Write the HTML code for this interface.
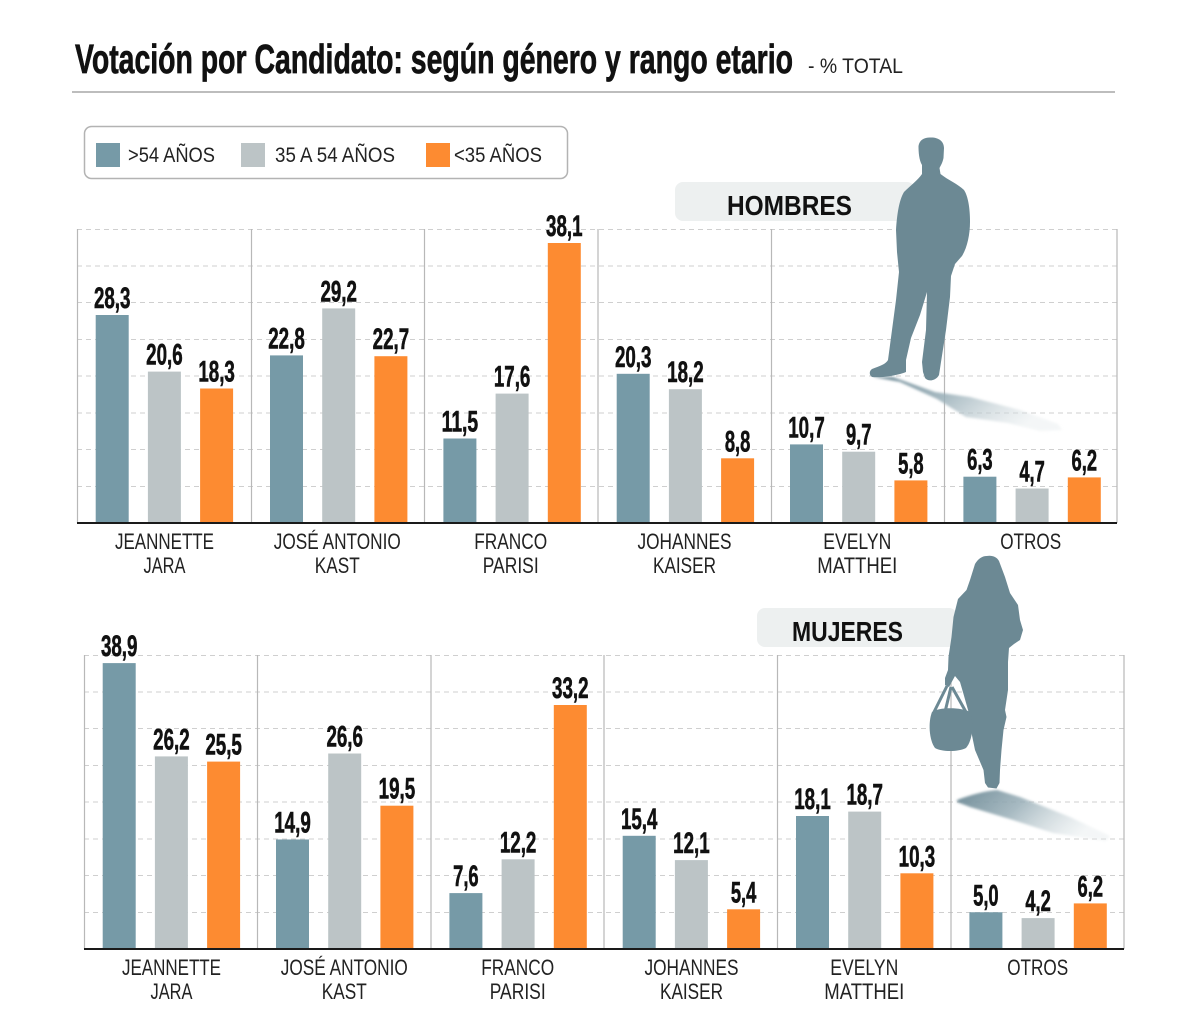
<!DOCTYPE html>
<html>
<head>
<meta charset="utf-8">
<style>
html,body{margin:0;padding:0;background:#fff;}
svg{display:block;}
.t{font-family:"Liberation Sans",sans-serif;font-weight:bold;fill:#111;stroke:#111;stroke-width:0.7;}
.h{font-family:"Liberation Sans",sans-serif;font-weight:bold;fill:#111;}
.v{font-family:"Liberation Sans",sans-serif;font-weight:bold;font-size:30px;fill:#111;stroke:#111;stroke-width:0.6;}
.c{font-family:"Liberation Sans",sans-serif;font-size:22px;fill:#222;text-anchor:middle;}
.l{font-family:"Liberation Sans",sans-serif;font-size:21px;fill:#222;}
.a{fill:#769aa7;}
.b{fill:#bcc4c6;}
.o{fill:#fd8b31;}
.grid{stroke:#cfcfcf;stroke-width:1;stroke-dasharray:5 4;fill:none;}
.div{stroke:#b8b8b8;stroke-width:1.2;fill:none;}
.base{stroke:#1a1a1a;stroke-width:2;fill:none;}
.sil{fill:#6c8994;}
</style>
</head>
<body>
<svg width="1200" height="1034" viewBox="0 0 1200 1034" xmlns="http://www.w3.org/2000/svg">
<defs>
<linearGradient id="sh" x1="0" y1="0" x2="1" y2="0.35">
<stop offset="0" stop-color="#6f8b97" stop-opacity="1"/>
<stop offset="0.45" stop-color="#98aeb7" stop-opacity="0.85"/>
<stop offset="1" stop-color="#e3e9eb" stop-opacity="0.4"/>
</linearGradient>
<filter id="bl" x="-10%" y="-50%" width="120%" height="200%"><feGaussianBlur stdDeviation="1.3"/></filter>
</defs>

<!-- Title -->
<text class="t" x="75" y="73" font-size="41" textLength="718" lengthAdjust="spacingAndGlyphs">Votación por Candidato: según género y rango etario</text>
<text class="l" x="808" y="73" textLength="95" lengthAdjust="spacingAndGlyphs">- % TOTAL</text>
<line x1="72" y1="92" x2="1115" y2="92" stroke="#bdbdbd" stroke-width="2"/>

<!-- Legend -->
<rect x="84.5" y="126.5" width="483" height="52" rx="7" fill="#fff" stroke="#b3b3b3" stroke-width="1.5"/>
<rect x="96" y="143" width="24" height="24" class="a"/>
<text class="l" x="128" y="162" textLength="87" lengthAdjust="spacingAndGlyphs">&gt;54 AÑOS</text>
<rect x="241" y="143" width="24" height="24" class="b"/>
<text class="l" x="275" y="162" textLength="120" lengthAdjust="spacingAndGlyphs">35 A 54 AÑOS</text>
<rect x="426" y="143" width="24" height="24" class="o"/>
<text class="l" x="454" y="162" textLength="88" lengthAdjust="spacingAndGlyphs">&lt;35 AÑOS</text>

<!-- ===== TOP CHART (HOMBRES) ===== -->
<path class="grid" d="M77 229.5H1117M77 266H1117M77 302.5H1117M77 339.5H1117M77 376H1117M77 413H1117M77 449.5H1117M77 486.5H1117"/>
<path class="div" d="M77.5 229V523M251.5 229V523M424.5 229V523M598 229V523M771.5 229V523M944.5 229V523M1117 229V523"/>

<rect x="675" y="182" width="240" height="39" rx="8" fill="#edf0f0"/>
<text class="h" x="727" y="215" font-size="28" textLength="125" lengthAdjust="spacingAndGlyphs">HOMBRES</text>

<rect class="a" x="95.7" y="315.0" width="33" height="208.0"/>
<rect class="b" x="147.9" y="371.6" width="33" height="151.4"/>
<rect class="o" x="200.1" y="388.5" width="33" height="134.5"/>
<rect class="a" x="270.0" y="355.4" width="33" height="167.6"/>
<rect class="b" x="322.2" y="308.4" width="33" height="214.6"/>
<rect class="o" x="374.4" y="356.2" width="33" height="166.8"/>
<rect class="a" x="443.4" y="438.5" width="33" height="84.5"/>
<rect class="b" x="495.6" y="393.6" width="33" height="129.4"/>
<rect class="o" x="547.8" y="243.0" width="33" height="280.0"/>
<rect class="a" x="616.7" y="373.8" width="33" height="149.2"/>
<rect class="b" x="668.9" y="389.2" width="33" height="133.8"/>
<rect class="o" x="721.1" y="458.3" width="33" height="64.7"/>
<rect class="a" x="790.0" y="444.4" width="33" height="78.6"/>
<rect class="b" x="842.2" y="451.7" width="33" height="71.3"/>
<rect class="o" x="894.4" y="480.4" width="33" height="42.6"/>
<rect class="a" x="963.4" y="476.7" width="33" height="46.3"/>
<rect class="b" x="1015.6" y="488.5" width="33" height="34.5"/>
<rect class="o" x="1067.8" y="477.4" width="33" height="45.6"/>

<text class="v" x="93.95" y="308" textLength="36.5" lengthAdjust="spacingAndGlyphs">28,3</text>
<text class="v" x="146.15" y="364.6" textLength="36.5" lengthAdjust="spacingAndGlyphs">20,6</text>
<text class="v" x="198.35" y="381.5" textLength="36.5" lengthAdjust="spacingAndGlyphs">18,3</text>
<text class="v" x="268.25" y="348.4" textLength="36.5" lengthAdjust="spacingAndGlyphs">22,8</text>
<text class="v" x="320.45" y="301.4" textLength="36.5" lengthAdjust="spacingAndGlyphs">29,2</text>
<text class="v" x="372.65" y="349.2" textLength="36.5" lengthAdjust="spacingAndGlyphs">22,7</text>
<text class="v" x="441.65" y="431.5" textLength="36.5" lengthAdjust="spacingAndGlyphs">11,5</text>
<text class="v" x="493.85" y="386.6" textLength="36.5" lengthAdjust="spacingAndGlyphs">17,6</text>
<text class="v" x="546.05" y="236" textLength="36.5" lengthAdjust="spacingAndGlyphs">38,1</text>
<text class="v" x="614.95" y="366.8" textLength="36.5" lengthAdjust="spacingAndGlyphs">20,3</text>
<text class="v" x="667.15" y="382.2" textLength="36.5" lengthAdjust="spacingAndGlyphs">18,2</text>
<text class="v" x="724.85" y="451.3" textLength="25.5" lengthAdjust="spacingAndGlyphs">8,8</text>
<text class="v" x="788.25" y="437.4" textLength="36.5" lengthAdjust="spacingAndGlyphs">10,7</text>
<text class="v" x="845.95" y="444.7" textLength="25.5" lengthAdjust="spacingAndGlyphs">9,7</text>
<text class="v" x="898.15" y="473.4" textLength="25.5" lengthAdjust="spacingAndGlyphs">5,8</text>
<text class="v" x="967.15" y="469.7" textLength="25.5" lengthAdjust="spacingAndGlyphs">6,3</text>
<text class="v" x="1019.35" y="481.5" textLength="25.5" lengthAdjust="spacingAndGlyphs">4,7</text>
<text class="v" x="1071.55" y="470.4" textLength="25.5" lengthAdjust="spacingAndGlyphs">6,2</text>

<line class="base" x1="77" y1="523" x2="1117" y2="523"/>

<text class="c" x="164.5" y="549" textLength="99" lengthAdjust="spacingAndGlyphs">JEANNETTE</text>
<text class="c" x="164.5" y="573" textLength="42" lengthAdjust="spacingAndGlyphs">JARA</text>
<text class="c" x="337.3" y="549" textLength="127" lengthAdjust="spacingAndGlyphs">JOSÉ ANTONIO</text>
<text class="c" x="337.3" y="573" textLength="45" lengthAdjust="spacingAndGlyphs">KAST</text>
<text class="c" x="510.7" y="549" textLength="73" lengthAdjust="spacingAndGlyphs">FRANCO</text>
<text class="c" x="510.7" y="573" textLength="56" lengthAdjust="spacingAndGlyphs">PARISI</text>
<text class="c" x="684.5" y="549" textLength="94" lengthAdjust="spacingAndGlyphs">JOHANNES</text>
<text class="c" x="684.5" y="573" textLength="63" lengthAdjust="spacingAndGlyphs">KAISER</text>
<text class="c" x="857.3" y="549" textLength="68" lengthAdjust="spacingAndGlyphs">EVELYN</text>
<text class="c" x="857.3" y="573" textLength="80" lengthAdjust="spacingAndGlyphs">MATTHEI</text>
<text class="c" x="1030.7" y="549" textLength="61" lengthAdjust="spacingAndGlyphs">OTROS</text>

<!-- Man shadow + silhouette -->
<path d="M873 377 L893 377 L935 392 L970 397 L1020 410 L1058 424 L1062 430 L1040 431 L1008 423 L966 417 L937 399 L900 382 Z" fill="url(#sh)" filter="url(#bl)"/>
<path class="sil" d="M930 137.5 C938 137 944 141 944 148 L943.5 158 C942.5 163 940.5 166 939.5 168 L940.5 174 C948 180 958 184 964 190 C968 196 970 208 970 222 C970 235 967 248 962 256 L955 264 L951 276 L950 297 L946 330 L941 362 L939 375 C936 381 928 382 925 378 L923 372 L922 362 L926 330 L927 292 L920 315 L911 338 L906 360 L906 372 C896 376 880 378 872 377 C869 375 869 371 872 369 C880 366 886 364 888 360 L892 330 L896 300 L899 272 L897 252 L896 230 C897 215 899 200 904 192 C910 186 918 180 922 174 L922 165 C919 160 918.5 152 918.5 146 C919.5 140 924 137.5 930 137.5 Z"/>

<!-- ===== BOTTOM CHART (MUJERES) ===== -->
<path class="grid" d="M84 655.5H1124M84 692H1124M84 728.5H1124M84 765.5H1124M84 802H1124M84 839H1124M84 875.5H1124M84 912.5H1124"/>
<path class="div" d="M84.5 655V949M257.5 655V949M431 655V949M604 655V949M777.5 655V949M951 655V949M1124 655V949"/>

<rect x="757" y="608" width="200" height="39" rx="8" fill="#edf0f0"/>
<text class="h" x="792" y="641" font-size="28" textLength="111" lengthAdjust="spacingAndGlyphs">MUJERES</text>

<rect class="a" x="102.7" y="663.1" width="33" height="285.9"/>
<rect class="b" x="154.9" y="756.4" width="33" height="192.6"/>
<rect class="o" x="207.1" y="761.6" width="33" height="187.4"/>
<rect class="a" x="276.0" y="839.5" width="33" height="109.5"/>
<rect class="b" x="328.2" y="753.5" width="33" height="195.5"/>
<rect class="o" x="380.4" y="805.7" width="33" height="143.3"/>
<rect class="a" x="449.4" y="893.1" width="33" height="55.9"/>
<rect class="b" x="501.6" y="859.3" width="33" height="89.7"/>
<rect class="o" x="553.8" y="705.0" width="33" height="244.0"/>
<rect class="a" x="622.7" y="835.8" width="33" height="113.2"/>
<rect class="b" x="674.9" y="860.1" width="33" height="88.9"/>
<rect class="o" x="727.1" y="909.3" width="33" height="39.7"/>
<rect class="a" x="796.0" y="816.0" width="33" height="133.0"/>
<rect class="b" x="848.2" y="811.6" width="33" height="137.4"/>
<rect class="o" x="900.4" y="873.3" width="33" height="75.7"/>
<rect class="a" x="969.4" y="912.25" width="33" height="36.75"/>
<rect class="b" x="1021.6" y="918.1" width="33" height="30.9"/>
<rect class="o" x="1073.8" y="903.4" width="33" height="45.6"/>

<text class="v" x="100.95" y="656.1" textLength="36.5" lengthAdjust="spacingAndGlyphs">38,9</text>
<text class="v" x="153.15" y="749.4" textLength="36.5" lengthAdjust="spacingAndGlyphs">26,2</text>
<text class="v" x="205.35" y="754.6" textLength="36.5" lengthAdjust="spacingAndGlyphs">25,5</text>
<text class="v" x="274.25" y="832.5" textLength="36.5" lengthAdjust="spacingAndGlyphs">14,9</text>
<text class="v" x="326.45" y="746.5" textLength="36.5" lengthAdjust="spacingAndGlyphs">26,6</text>
<text class="v" x="378.65" y="798.7" textLength="36.5" lengthAdjust="spacingAndGlyphs">19,5</text>
<text class="v" x="453.15" y="886.1" textLength="25.5" lengthAdjust="spacingAndGlyphs">7,6</text>
<text class="v" x="499.85" y="852.3" textLength="36.5" lengthAdjust="spacingAndGlyphs">12,2</text>
<text class="v" x="552.05" y="698" textLength="36.5" lengthAdjust="spacingAndGlyphs">33,2</text>
<text class="v" x="620.95" y="828.8" textLength="36.5" lengthAdjust="spacingAndGlyphs">15,4</text>
<text class="v" x="673.15" y="853.1" textLength="36.5" lengthAdjust="spacingAndGlyphs">12,1</text>
<text class="v" x="730.85" y="902.3" textLength="25.5" lengthAdjust="spacingAndGlyphs">5,4</text>
<text class="v" x="794.25" y="809" textLength="36.5" lengthAdjust="spacingAndGlyphs">18,1</text>
<text class="v" x="846.45" y="804.6" textLength="36.5" lengthAdjust="spacingAndGlyphs">18,7</text>
<text class="v" x="898.65" y="866.3" textLength="36.5" lengthAdjust="spacingAndGlyphs">10,3</text>
<text class="v" x="973.15" y="905.25" textLength="25.5" lengthAdjust="spacingAndGlyphs">5,0</text>
<text class="v" x="1025.35" y="911.1" textLength="25.5" lengthAdjust="spacingAndGlyphs">4,2</text>
<text class="v" x="1077.55" y="896.4" textLength="25.5" lengthAdjust="spacingAndGlyphs">6,2</text>

<line class="base" x1="84" y1="949" x2="1124" y2="949"/>

<text class="c" x="171.5" y="975" textLength="99" lengthAdjust="spacingAndGlyphs">JEANNETTE</text>
<text class="c" x="171.5" y="999" textLength="42" lengthAdjust="spacingAndGlyphs">JARA</text>
<text class="c" x="344.3" y="975" textLength="127" lengthAdjust="spacingAndGlyphs">JOSÉ ANTONIO</text>
<text class="c" x="344.3" y="999" textLength="45" lengthAdjust="spacingAndGlyphs">KAST</text>
<text class="c" x="517.7" y="975" textLength="73" lengthAdjust="spacingAndGlyphs">FRANCO</text>
<text class="c" x="517.7" y="999" textLength="56" lengthAdjust="spacingAndGlyphs">PARISI</text>
<text class="c" x="691.5" y="975" textLength="94" lengthAdjust="spacingAndGlyphs">JOHANNES</text>
<text class="c" x="691.5" y="999" textLength="63" lengthAdjust="spacingAndGlyphs">KAISER</text>
<text class="c" x="864.3" y="975" textLength="68" lengthAdjust="spacingAndGlyphs">EVELYN</text>
<text class="c" x="864.3" y="999" textLength="80" lengthAdjust="spacingAndGlyphs">MATTHEI</text>
<text class="c" x="1037.7" y="975" textLength="61" lengthAdjust="spacingAndGlyphs">OTROS</text>

<!-- Woman shadow + silhouette -->
<path d="M957 800 C970 795 985 791 997 790 L1020 797 L1070 817 L1110 836 L1106 841 L1053 833 L1013 820 L970 807 L957 802 Z" fill="url(#sh)" filter="url(#bl)"/>
<path class="sil" d="M986.7 556 C992 555 997 557 999 561 L1005 577 L1010 593 L1018 605 L1020 620 L1023 630 L1020 640 L1014 644 L1009 648 L1008 662 L1008 690 L1005 710 L1006.5 717 L1003.5 730 L1001.5 750 L1000 770 L999.5 783 L996.5 788.5 L988 787.5 L985 783 L983.5 770 L975 750 L971.5 733 L970 717 L963.5 694 L960 682 L955 676 L949 687 L945 685 L945 678 L948 670 L948.5 657 L951.5 637 L953.5 617 L958 599 L966.5 590 L970 580 L975 564 C978 559 982 556 986.7 556 Z"/>
<!-- bag -->
<path d="M947 686 L934 712 M951 687 L945 712 M952 687 L966 712" stroke="#6c8994" stroke-width="3" fill="none"/>
<path class="sil" d="M932 712 C938 707 962 707 970 712 C974 722 973 740 966 748 C958 752 942 752 935 748 C929 740 928 722 932 712 Z"/>

</svg>
</body>
</html>
